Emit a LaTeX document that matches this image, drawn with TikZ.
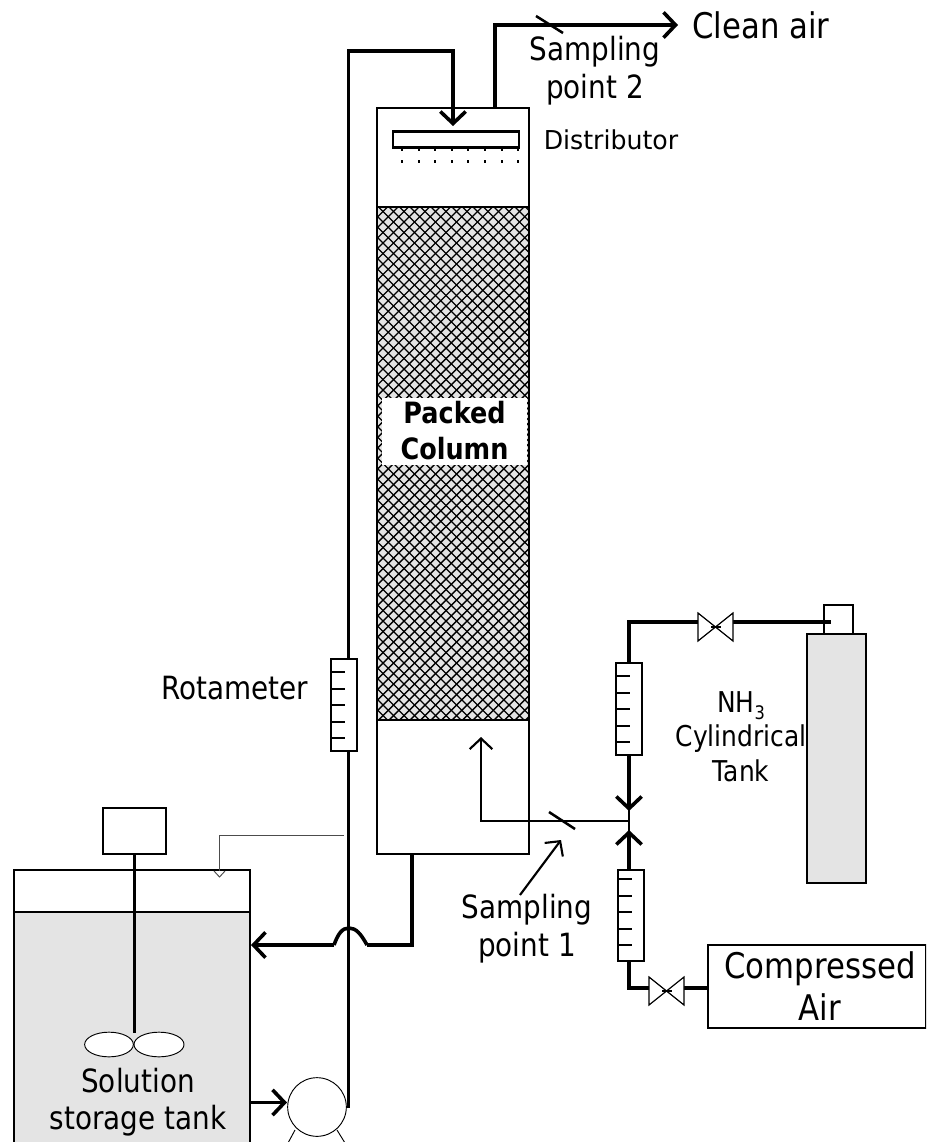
\documentclass[tikz,border=0pt]{standalone}
\usepackage{fontspec}
\setmainfont[FakeStretch=0.87]{DejaVu Sans}
\newfontfamily\distfont[FakeStretch=0.97]{DejaVu Sans}
\usetikzlibrary{arrows.meta,shapes.geometric}
\definecolor{tankgrey}{HTML}{E4E4E4}
\tikzset{
  sz/.style 2 args={minimum width=#1*0.75pt,minimum height=#2*0.75pt},
  box/.style={draw,line width=1.7pt,inner sep=0pt,outer sep=0pt,fill=white},
  pipe/.style={line width=2.7pt,line join=miter},
  thinpipe/.style={line width=1.6pt,line join=miter},
  bigtip/.style={-{Straight Barb[length=9pt,width=19pt,line width=2.7pt]}},
  smalltip/.style={-{Straight Barb[length=8pt,width=17pt,line width=1.6pt]}},
  tick/.style={line width=1.5pt},
  label/.style={font=\fontsize{24}{28.5}\selectfont,align=center,inner sep=0pt},
  biglabel/.style={font=\fontsize{26.5}{31.5}\selectfont,align=center,inner sep=0pt},
  midlabel/.style={font=\fontsize{21.5}{26}\selectfont,align=center,inner sep=0pt},
  smalllabel/.style={font=\fontsize{19.5}{24}\selectfont\distfont,align=center,inner sep=0pt},
  valvesym/.style={draw,line width=0.9pt,fill=white}
}
\newcommand{\meterticks}[2]{% x, top y
  \foreach \k in {0,...,4}{\draw[tick] (#1,#2+\k*16.5) -- +(14,0);}}
\begin{document}
\begin{tikzpicture}[x=0.75pt,y=-0.75pt]
\clip (0,0) rectangle (926,1142);
\fill[white] (0,0) rectangle (926,1142);

% storage tank
\node[box,sz={236}{300}] (tank) at (132,1020) {};
\fill[tankgrey] (14,912) rectangle (250,1150);
\draw[line width=1.7pt] (14,870) -- (14,1150) (250,870) -- (250,1150) (14,870) -- (250,870) (14,912) -- (250,912);
\node[box,sz={63}{46}] (motor) at (134.5,831) {};
\coordinate (shaftend) at (134.5,1033);
\draw[line width=1.6pt] (motor.south) -- (shaftend);
\node[draw,line width=0.7pt,fill=white,ellipse,inner sep=0pt,minimum width=36.5pt,minimum height=18.5pt] (bladeL) at (109,1044.5) {};
\node[draw,line width=0.7pt,fill=white,ellipse,inner sep=0pt,minimum width=37.5pt,minimum height=18.5pt] (bladeR) at (159,1044.5) {};
\node[label] (tanklabel) at (138,1102) {Solution\\[-0.5pt]storage tank};

% column
\node[box,sz={152}{746}] (column) at (453,481) {};
\begin{scope}
\clip (377,207) rectangle (529,720);
\fill[tankgrey] (377,207) rectangle (529,720);
\foreach \i in {0,...,64}{
  \draw[line width=1.05pt] (-136+\i*10.5,207) -- +(513,513);
  \draw[line width=1.05pt] (377+\i*10.5,207) -- +(-513,513);
}
\end{scope}
\draw[line width=1.7pt] (377,207) -- (529,207) (377,720) -- (529,720) (377,207) -- (377,720) (529,207) -- (529,720);
\node[fill=white,sz={145}{67},inner sep=0pt,font=\fontsize{22}{27}\bfseries\selectfont,align=center] (packed) at (454.5,431) {Packed\\Column};
\node[box,sz={126}{16}] (dist) at (456,139.5) {};
\foreach \i in {0,...,7}{
  \fill (402+\i*16.6-1,148) rectangle +(2,2.5);
  \fill (402+\i*16.6-1,159.5) rectangle +(2,3);
}
\node[smalllabel] (distlabel) at (611,140) {Distributor};

% pump and feed pipe
\node[draw,line width=0.7pt,circle,fill=white,inner sep=0pt,minimum size=44pt] (pump) at (317,1107) {};
\coordinate (legLa) at (295,1130); \coordinate (legLb) at (288,1143);
\coordinate (legRa) at (337,1130); \coordinate (legRb) at (345,1143);
\draw[line width=0.7pt] (legLa) -- (legLb) (legRa) -- (legRb);
\coordinate (pumpout) at (348.5,1108);
\coordinate (feedbendA) at (348.5,51);
\coordinate (feedbendB) at (453,51);
\coordinate (feedtip) at (453,126);
\draw[pipe,bigtip] (pumpout) -- (feedbendA) -- (feedbendB) -- (feedtip);
\coordinate (tankpump) at (250,1102.5);
\coordinate (pumpin) at (287,1102.5);
\draw[pipe,bigtip] (tankpump) -- (pumpin);
\node[box,sz={26}{92}] (rotaL) at (344,705) {};
\meterticks{331}{672}
\node[label] (rotalabel) at (234.5,688) {Rotameter};

% clean air outlet
\coordinate (outA) at (495,108);
\coordinate (outB) at (495,25);
\coordinate (outC) at (678,25);
\draw[pipe,bigtip] (outA) -- (outB) -- (outC);
\coordinate (s2a) at (536,16); \coordinate (s2b) at (563,33);
\draw[line width=1.9pt] (s2a) -- (s2b);
\node[label] (s2label) at (595,71) {Sampling\\point 2};
\node[biglabel,anchor=west] (cleanair) at (692,25) {Clean air};

% return line to tank
\coordinate (retA) at (412,853);
\coordinate (retB) at (412,945);
\coordinate (retC) at (367,945);
\coordinate (retD) at (334,945);
\coordinate (rettip) at (251,945);
\draw[pipe] (retA) -- (retB) -- (retC);
\draw[pipe] (retC) .. controls (361,934) and (356,928) .. (349,928) .. controls (342,928) and (338,934) .. (retD);
\draw[pipe,bigtip] (retD) -- (rettip);

% overflow
\coordinate (ovA) at (344,835.5);
\coordinate (ovB) at (219.5,835.5);
\coordinate (ovC) at (219.5,877);
\draw[line width=0.7pt,draw=black!70] (ovA) -- (ovB) -- (ovC);
\draw[line width=0.7pt,draw=black!70,fill=white] (214,871) -- (219.5,877) -- (225,871);

% gas side
\node[draw,line width=1.7pt,fill=tankgrey,inner sep=0pt,sz={59}{249}] (cyl) at (836.5,758.5) {};
\node[box,sz={29}{29}] (cap) at (838.5,619.5) {};
\coordinate (gasbend) at (629,622);
\coordinate (gasend) at (831,622);
\coordinate (gasmerge) at (629,821);
\coordinate (airbend) at (629,988);
\coordinate (valveAl) at (698,622); \coordinate (valveAr) at (733,622);
\coordinate (valveBl) at (649,988); \coordinate (valveBr) at (684,988);
\draw[pipe] (valveAr) -- (gasend);
\draw[pipe] (valveAl) -- (gasbend) -- (629,663);
\draw[valvesym] (698,613) -- (733,641) -- (733,613) -- (698,641) -- cycle;
\draw[line width=1.5pt] (711,626.5) -- (721,626.5);
\node[box,sz={26}{92}] (rotaU) at (629,709) {};
\meterticks{616}{676}
\draw[thinpipe] (629,809) -- (629,832);
\draw[pipe,bigtip] (rotaU.south) -- (629,811);
\node[box,sz={26}{91}] (rotaB) at (631,915.5) {};
\meterticks{618}{879}
\draw[pipe,bigtip] (629,870) -- (629,830);
\node[box,sz={218}{83}] (air) at (817,986.5) {};
\draw[pipe] (629,961) -- (airbend) -- (valveBl);
\draw[pipe] (valveBr) -- (air.west |- valveBr);
\draw[valvesym] (649,977) -- (684,1005) -- (684,977) -- (649,1005) -- cycle;
\draw[line width=1.5pt] (662,991) -- (672,991);
\coordinate (inbend) at (481,821);
\coordinate (intip) at (481,737);
\draw[thinpipe,smalltip] (gasmerge) -- (inbend) -- (intip);
\coordinate (s1a) at (549,812); \coordinate (s1b) at (575,829);
\draw[line width=1.9pt] (s1a) -- (s1b);
\coordinate (ptrA) at (520,895); \coordinate (ptrB) at (561,840);
\draw[thinpipe,smalltip] (ptrA) -- (ptrB);
\node[label] (s1label) at (527,928.5) {Sampling\\point 1};
\node[midlabel] (cyllabel) at (741,737) {NH\raisebox{-5pt}{\fontsize{14}{14}\selectfont 3}\\[-0.5pt]Cylindrical\\Tank};
\node[biglabel] (airlabel) at (820,986) {Compressed\\Air};
\end{tikzpicture}
\end{document}
